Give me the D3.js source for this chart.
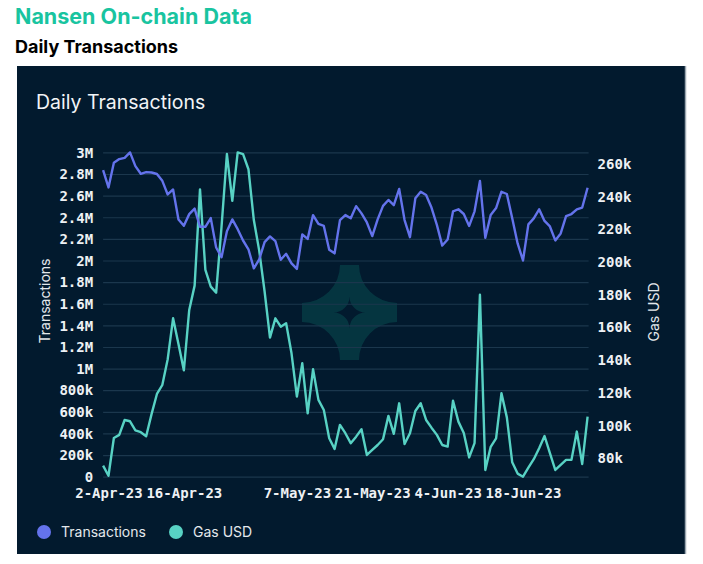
<!DOCTYPE html>
<html>
<head>
  <meta charset="utf-8">
  <script src="https://d3js.org/d3.v7.min.js"></script>
  <style>
    body { margin: 0; background: #fff; }
    .domain { display: none; }
    .grid .tick line { stroke: #1b374d; stroke-width: 1.2; }
    .tick text {
      fill: #eef1f4;
      font-family: "DejaVu Sans Mono", monospace;
      font-weight: bold;
      font-size: 14px;
    }
    .axis-label, .legend text {
      fill: #e4e8ec;
      font-family: Inter, sans-serif;
      font-size: 14px;
    }
  </style>
</head>
<body>
  <svg width="703" height="564"></svg>
  <script>
    // one point a day, 1-Apr-23 .. 30-Jun-23
    const startDate = new Date(2023, 3, 1);
    const transactions = [
      2.836, 2.676, 2.904, 2.938, 2.95, 3.0, 2.873, 2.802, 2.818, 2.814,
      2.80, 2.737, 2.611, 2.657, 2.38, 2.321, 2.429, 2.48, 2.312, 2.312,
      2.392, 2.12, 2.03, 2.27, 2.38, 2.29, 2.185, 2.104, 1.927, 2.01,
      2.17, 2.223, 2.18, 2.007, 2.062, 1.974, 1.922, 2.24, 2.2, 2.42,
      2.338, 2.32, 2.1, 2.066, 2.374, 2.42, 2.39, 2.503, 2.436, 2.352,
      2.226, 2.38, 2.505, 2.56, 2.512, 2.662, 2.374, 2.216, 2.575, 2.636,
      2.605, 2.49, 2.33, 2.138, 2.195, 2.454, 2.474, 2.43, 2.32, 2.455,
      2.736, 2.21, 2.42, 2.485, 2.636, 2.615, 2.39, 2.158, 2.0, 2.334,
      2.39, 2.473, 2.366, 2.315, 2.186, 2.25, 2.41, 2.43, 2.473, 2.49,
      2.673
    ].map(v => v * 1e6);
    const gasUsd = [
      75.5, 69.3, 92.4, 94.3, 103.4, 102.6, 97.1, 95.9, 93.4, 107,
      119.3, 124.8, 140.6, 165.6, 149.9, 133.8, 170.7, 185.6, 244.5, 195.2,
      185, 181.3, 221.6, 266.1, 237.5, 267.1, 266.1, 256.8, 225.7, 207,
      182, 153.8, 165.6, 160.5, 162.6, 144.2, 117.7, 138.1, 107.5, 134.4,
      115.7, 109.5, 92.2, 85.7, 100.4, 95.3, 89.2, 93.2, 97.7, 82.0,
      85.1, 88.1, 91.6, 105.9, 94.9, 113.6, 88.7, 95.3, 108.9, 113.6,
      103.4, 98.7, 94.3, 88.1, 87.1, 115.2, 102.4, 95.5, 80.5, 89.2,
      180, 72.8, 87, 92.2, 119.8, 105, 77.5, 70.6, 68.7, 74.2,
      79.4, 86.1, 93.6, 83.1, 72.8, 75.9, 79, 79, 96.3, 76.5,
      105.4
    ].map(v => v * 1e3);
    const xTickDates = ['2023-04-02', '2023-04-16', '2023-05-07', '2023-05-21', '2023-06-04', '2023-06-18'];
    const leftTicks = d3.range(0, 3000001, 200000);
    const rightTicks = d3.range(80000, 260001, 20000);
    const seriesNames = ['Transactions', 'Gas USD'];

    const blue = '#6473ec';
    const teal = '#58d2c4';

    const dates = transactions.map((d, i) => d3.timeDay.offset(startDate, i));
    const data = dates.map((d, i) => ({ date: d, tx: transactions[i], gas: gasUsd[i] }));

    const svg = d3.select('svg');
    const plot = { left: 103.1, right: 587.6, top: 152.4, bottom: 476.7 };

    // page headings
    svg.append('text')
      .attr('x', 15).attr('y', 23.5)
      .style('font-family', 'Inter, sans-serif')
      .style('font-weight', 700)
      .style('font-size', '21.5px')
      .attr('fill', '#19c4a0')
      .text('Nansen On-chain Data');
    svg.append('text')
      .attr('x', 15).attr('y', 53)
      .style('font-family', 'Inter, sans-serif')
      .style('font-weight', 700)
      .style('font-size', '18px')
      .attr('fill', '#000')
      .text('Daily Transactions');

    // dark panel
    svg.append('rect')
      .attr('x', 17).attr('y', 66)
      .attr('width', 668).attr('height', 488)
      .attr('fill', '#021a2e');
    svg.append('line')
      .attr('x1', 685.5).attr('x2', 685.5)
      .attr('y1', 66).attr('y2', 554)
      .attr('stroke', '#9aa6b0').attr('stroke-width', 1.5);

    svg.append('text')
      .attr('x', 36).attr('y', 109)
      .style('font-family', 'Inter, sans-serif')
      .style('font-size', '19.5px')
      .attr('fill', '#f2f4f6')
      .text('Daily Transactions');

    // watermark logo
    const R = 47.5, w = 9.5, r = R - w, s = 16;
    const logo = `M${-w},${-R} L${w},${-R} A${r},${r} 0 0 0 ${R},${-w} L${R},${w} A${r},${r} 0 0 0 ${w},${R}` +
      ` L${-w},${R} A${r},${r} 0 0 0 ${-R},${w} L${-R},${-w} A${r},${r} 0 0 0 ${-w},${-R} Z` +
      ` M0,${-s} A${s},${s} 0 0 0 ${s},0 A${s},${s} 0 0 0 0,${s} A${s},${s} 0 0 0 ${-s},0 A${s},${s} 0 0 0 0,${-s} Z`;
    svg.append('path')
      .attr('transform', 'translate(349.5,312.5)')
      .attr('d', logo)
      .attr('fill-rule', 'evenodd')
      .attr('fill', '#13a58e')
      .attr('fill-opacity', 0.2);

    const xScale = d3.scaleTime()
      .domain(d3.extent(dates))
      .range([plot.left, plot.right]);
    const yLeft = d3.scaleLinear()
      .domain([0, 3000000])
      .range([plot.bottom, plot.top]);
    const yRight = d3.scaleLinear()
      .domain(d3.extent(gasUsd))
      .range([plot.bottom, plot.top]);

    const fmt = d3.format('~s');

    svg.append('g')
      .attr('class', 'grid')
      .attr('transform', `translate(${plot.left},0)`)
      .call(d3.axisLeft(yLeft)
        .tickValues(leftTicks)
        .tickFormat(fmt)
        .tickSize(-(plot.right - plot.left + 1))
        .tickPadding(10))
      .selectAll('.tick text').attr('dy', '0.34em');

    svg.append('g')
      .attr('transform', `translate(${plot.right},0)`)
      .call(d3.axisRight(yRight)
        .tickValues(rightTicks)
        .tickFormat(fmt)
        .tickSize(0)
        .tickPadding(10));

    svg.append('g')
      .attr('transform', `translate(0,${plot.bottom})`)
      .call(d3.axisBottom(xScale)
        .tickValues(xTickDates.map(d => d3.timeParse('%Y-%m-%d')(d)))
        .tickFormat(d3.timeFormat('%-d-%b-%y'))
        .tickSize(0)
        .tickPadding(11));

    const txLine = d3.line().x(d => xScale(d.date)).y(d => yLeft(d.tx));
    const gasLine = d3.line().x(d => xScale(d.date)).y(d => yRight(d.gas));

    svg.append('path')
      .datum(data)
      .attr('d', gasLine)
      .attr('fill', 'none')
      .attr('stroke', teal)
      .attr('stroke-width', 2.4)
      .attr('stroke-linejoin', 'round');
    svg.append('path')
      .datum(data)
      .attr('d', txLine)
      .attr('fill', 'none')
      .attr('stroke', blue)
      .attr('stroke-width', 2.4)
      .attr('stroke-linejoin', 'round');

    // axis titles
    svg.append('text')
      .attr('class', 'axis-label')
      .attr('transform', 'translate(50,301) rotate(-90)')
      .attr('text-anchor', 'middle')
      .text(seriesNames[0]);
    svg.append('text')
      .attr('class', 'axis-label')
      .attr('transform', 'translate(659,312) rotate(-90)')
      .attr('text-anchor', 'middle')
      .text(seriesNames[1]);

    // legend
    const legend = svg.append('g').attr('class', 'legend');
    const legendX = [44, 176];
    seriesNames.forEach((name, i) => {
      legend.append('circle')
        .attr('cx', legendX[i]).attr('cy', 532)
        .attr('r', 7)
        .attr('fill', i === 0 ? blue : teal);
      legend.append('text')
        .attr('x', legendX[i] + 17).attr('y', 532)
        .attr('dy', '0.35em')
        .text(name);
    });
  </script>
</body>
</html>
